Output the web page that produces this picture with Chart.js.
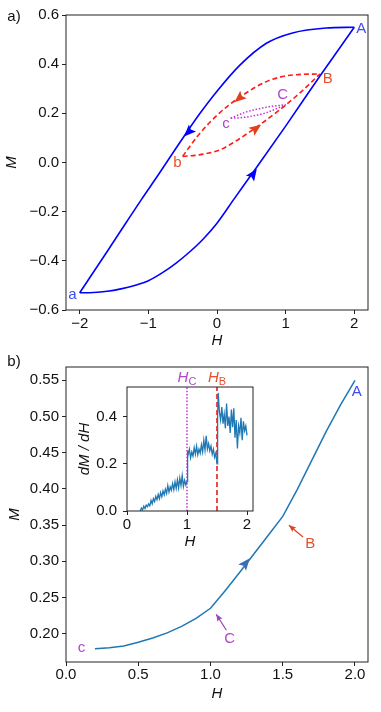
<!DOCTYPE html>
<html>
<head>
<meta charset="utf-8">
<script src="https://cdn.jsdelivr.net/npm/chart.js@4/dist/chart.umd.min.js"></script>
<style>
  html, body { margin: 0; padding: 0; background: #fff; }
  #wrap { position: relative; width: 381px; height: 712px; overflow: hidden; }
  canvas { position: absolute; }
</style>
</head>
<body>
<div id="wrap">
  <canvas id="cA" width="381" height="352" style="left:0;top:0"></canvas>
  <canvas id="cB" width="381" height="360" style="left:0;top:352px"></canvas>
  <canvas id="cIn" width="200" height="190" style="left:70px;top:365px"></canvas>
</div>
<script>
const FONT = "'Liberation Sans', Arial, sans-serif";

// ---- a) laço de histerese M(H) ----
const topXTicks = [-2, -1, 0, 1, 2];
const topYTicks = [-0.6, -0.4, -0.2, 0, 0.2, 0.4, 0.6];

// ramo azul descendente (A -> a)
const blueDownH = [-2.0, -1.6, -1.33, -1.1, -0.84, -0.6, -0.45, -0.25, 0.0, 0.33, 0.72, 1.1, 1.59, 2.0];
const blueDownM = [-0.53, -0.362, -0.247, -0.15, -0.044, 0.057, 0.119, 0.199, 0.29, 0.395, 0.485, 0.527, 0.547, 0.55];
// ramo azul ascendente (a -> A)
const blueUpH = [-2.0, -1.8, -1.6, -1.4, -1.2, -1.0, -0.8, -0.6, -0.4, -0.2, 0.0, 0.25, 0.5, 1.0, 1.5, 2.0];
const blueUpM = [-0.53, -0.529, -0.524, -0.514, -0.5, -0.481, -0.449, -0.41, -0.364, -0.311, -0.247, -0.148, -0.05, 0.148, 0.352, 0.55];
// laço vermelho (B <-> b)
const redDownH = [-0.5, -0.4, -0.26, 0.03, 0.33, 0.72, 1.1, 1.5];
const redDownM = [0.025, 0.064, 0.115, 0.2, 0.265, 0.329, 0.356, 0.36];
const redUpH = [-0.5, -0.26, 0.03, 0.13, 0.52, 0.91, 1.2, 1.5];
const redUpM = [0.025, 0.031, 0.05, 0.063, 0.133, 0.2135, 0.281, 0.36];
// laço roxo (C <-> c)
const purDownH = [0.2, 0.4, 0.7, 1.0];
const purDownM = [0.18, 0.203, 0.224, 0.235];
const purUpH = [0.2, 0.4, 0.7, 1.0];
const purUpM = [0.18, 0.184, 0.201, 0.235];

// ---- b) curva c -> C -> B -> A ----
const botXTicks = [0, 0.5, 1.0, 1.5, 2.0];
const botYTicks = [0.20, 0.25, 0.30, 0.35, 0.40, 0.45, 0.50, 0.55];
const botH = [0.2, 0.3, 0.4, 0.5, 0.6, 0.7, 0.8, 0.9, 1.0, 1.1, 1.2, 1.3, 1.4, 1.5, 1.6, 1.7, 1.8, 1.9, 2.0];
const botM = [0.179, 0.1805, 0.183, 0.188, 0.194, 0.201, 0.210, 0.221, 0.235, 0.259, 0.284, 0.31, 0.336, 0.362, 0.399, 0.439, 0.479, 0.516, 0.55];

// ---- inset dM/dH ----
const insXTicks = [0, 1, 2];
const insYTicks = [0, 0.2, 0.4];
const insH = [0.20, 0.22, 0.24, 0.26, 0.28, 0.30, 0.32, 0.34, 0.36, 0.38,
  0.40, 0.42, 0.44, 0.46, 0.48, 0.50, 0.52, 0.54, 0.56, 0.58,
  0.60, 0.62, 0.64, 0.66, 0.68, 0.70, 0.72, 0.74, 0.76, 0.78,
  0.80, 0.82, 0.84, 0.86, 0.88, 0.90, 0.92, 0.94, 0.96, 0.98,
  1.00, 1.01, 1.02, 1.04, 1.06, 1.08, 1.10, 1.12, 1.14, 1.16, 1.18,
  1.20, 1.22, 1.24, 1.26, 1.28, 1.30, 1.32, 1.34, 1.36, 1.38,
  1.40, 1.42, 1.44, 1.46, 1.48, 1.50, 1.51, 1.52, 1.54, 1.56, 1.58,
  1.60, 1.62, 1.64, 1.66, 1.68, 1.70, 1.72, 1.74, 1.76, 1.78,
  1.80, 1.82, 1.84, 1.86, 1.88, 1.90, 1.92, 1.94, 1.96, 1.98, 2.00];
const insD = [-0.010, 0.000, 0.012, 0.005, 0.020, 0.010, 0.025, 0.018, 0.030, 0.022,
  0.045, 0.030, 0.052, 0.040, 0.062, 0.048, 0.070, 0.052, 0.078, 0.060,
  0.085, 0.068, 0.092, 0.074, 0.108, 0.080, 0.102, 0.088, 0.116, 0.090,
  0.124, 0.096, 0.132, 0.098, 0.140, 0.108, 0.150, 0.104, 0.130, 0.110,
  0.125, 0.255, 0.240, 0.262, 0.225, 0.250, 0.232, 0.268, 0.240, 0.275, 0.238,
  0.262, 0.245, 0.280, 0.250, 0.300, 0.258, 0.318, 0.262, 0.285, 0.255,
  0.275, 0.240, 0.262, 0.228, 0.245, 0.200, 0.400, 0.500, 0.420, 0.385, 0.440,
  0.370, 0.410, 0.350, 0.455, 0.360, 0.400, 0.330, 0.430, 0.355, 0.435,
  0.310, 0.385, 0.265, 0.360, 0.330, 0.395, 0.300, 0.380, 0.340, 0.360, 0.320];
const hC = 1.0, hB = 1.5;

// cores
const BLUE = '#0000ff', BLUE_TXT = '#3f4df0';
const RED = '#ff1a1a', RED_HEAD = '#e0401a', RED_TXT = '#e8502a';
const PUR = '#c82fd6', PUR_TXT = '#b048c8';
const C0 = '#1f77b4';

const pts = (xs, ys) => xs.map((x, i) => ({ x, y: ys[i] }));

function axis(min, max, ticks, fmt, title, o) {
  return {
    type: 'linear', min, max,
    afterBuildTicks: s => { s.ticks = ticks.map(v => ({ value: v })); },
    afterFit: o.fit,
    grid: { display: true, drawOnChartArea: false, drawTicks: true, tickLength: 4, color: '#222' },
    border: { display: false },
    ticks: { color: '#111', font: { family: FONT, size: 15 }, padding: o.tickPad, maxRotation: 0, autoSkip: false,
      callback: v => fmt(v) },
    title: { display: true, text: title, color: '#111', font: { family: FONT, size: 15, style: 'italic' }, padding: o.titlePad }
  };
}
const fmt = d => v => v.toFixed(d).replace('-', '\u2212');

function line(data, color, width, dash, tension) {
  return { data, borderColor: color, borderWidth: width, borderDash: dash || [], pointRadius: 0,
    fill: false, tension: tension || 0, cubicInterpolationMode: tension ? 'monotone' : 'default' };
}

function px(chart, h, m) {
  return [chart.scales.x.getPixelForValue(h), chart.scales.y.getPixelForValue(m)];
}
function head(ctx, x0, y0, x1, y1, len, wid, color) {
  const a = Math.atan2(y1 - y0, x1 - x0);
  ctx.save();
  ctx.translate(x1, y1); ctx.rotate(a);
  ctx.beginPath();
  ctx.moveTo(0, 0); ctx.lineTo(-len, wid / 2); ctx.lineTo(-len * 0.8, 0); ctx.lineTo(-len, -wid / 2);
  ctx.closePath();
  ctx.fillStyle = color; ctx.fill();
  ctx.restore();
}
function text(ctx, t, x, y, color, font) {
  ctx.save();
  ctx.font = font || `15px ${FONT}`;
  ctx.fillStyle = color; ctx.textAlign = 'center'; ctx.textBaseline = 'middle';
  ctx.fillText(t, x, y);
  ctx.restore();
}

const boxPlugin = {
  id: 'box',
  afterDatasetsDraw(chart) {
    const { ctx, chartArea: a } = chart;
    ctx.save();
    ctx.strokeStyle = '#222'; ctx.lineWidth = 1;
    ctx.strokeRect(a.left, a.top, a.right - a.left, a.bottom - a.top);
    ctx.restore();
  }
};

// anotações do painel a)
const topArrows = [
  { from: [-0.36, 0.14], to: [-0.48, 0.106], c: BLUE },
  { from: [0.47, -0.07], to: [0.58, -0.026], c: BLUE },
  { from: [0.40, 0.28], to: [0.253, 0.245], c: RED_HEAD },
  { from: [0.50, 0.125], to: [0.642, 0.154], c: RED_HEAD }
];
const topLabels = [
  { t: 'A', h: 2.10, m: 0.542, c: BLUE_TXT }, { t: 'a', h: -2.108, m: -0.539, c: BLUE_TXT },
  { t: 'B', h: 1.615, m: 0.342, c: RED_TXT }, { t: 'b', h: -0.575, m: -0.003, c: RED_TXT },
  { t: 'C', h: 0.958, m: 0.274, c: PUR_TXT }, { t: 'c', h: 0.131, m: 0.156, c: PUR_TXT }
];

const chartA = new Chart(document.getElementById('cA'), {
  type: 'line',
  data: { datasets: [
    line(pts(blueDownH, blueDownM), BLUE, 1.6, null, 0.4),
    line(pts(blueUpH, blueUpM), BLUE, 1.6, null, 0.4),
    line(pts(redDownH, redDownM), RED, 1.6, [5, 3], 0.4),
    line(pts(redUpH, redUpM), RED, 1.6, [5, 3], 0.4),
    line(pts(purDownH, purDownM), PUR, 1.5, [1.5, 1.8], 0.4),
    line(pts(purUpH, purUpM), PUR, 1.5, [1.5, 1.8], 0.4)
  ] },
  options: {
    responsive: false, animation: false, events: [],
    layout: { padding: { top: 15, right: 13, left: 0, bottom: 0 } },
    plugins: { legend: { display: false }, tooltip: { enabled: false } },
    scales: {
      x: axis(-2.2, 2.2, topXTicks, fmt(0), 'H', { fit: s => { s.height = 42; }, tickPad: 1, titlePad: { top: 0, bottom: 2 } }),
      y: axis(-0.6, 0.6, topYTicks, fmt(1), 'M', { fit: s => { s.width = 66; }, tickPad: 3, titlePad: { top: 3, bottom: 0 } })
    }
  },
  plugins: [boxPlugin, {
    id: 'notasA',
    afterDatasetsDraw(chart) {
      const ctx = chart.ctx;
      topArrows.forEach(a => {
        const [x0, y0] = px(chart, ...a.from), [x1, y1] = px(chart, ...a.to);
        head(ctx, x0, y0, x1, y1, 12, 10, a.c);
      });
      topLabels.forEach(l => { const [x, y] = px(chart, l.h, l.m); text(ctx, l.t, x, y, l.c); });
      text(ctx, 'a)', 14, 17, '#111');
    }
  }]
});

// anotações do painel b)
const botHead = { from: [1.218, 0.291], to: [1.272, 0.304] };
const botPointers = [
  { from: [1.64, 0.3335], to: [1.543, 0.3497], c: RED_HEAD },
  { from: [1.11, 0.2046], to: [1.04, 0.2267], c: '#a040c0' }
];
const botLabels = [
  { t: 'A', h: 2.013, m: 0.534, c: BLUE_TXT }, { t: 'B', h: 1.691, m: 0.3244, c: RED_TXT },
  { t: 'C', h: 1.133, m: 0.193, c: PUR_TXT }, { t: 'c', h: 0.108, m: 0.181, c: PUR_TXT }
];

const chartB = new Chart(document.getElementById('cB'), {
  type: 'line',
  data: { datasets: [ line(pts(botH, botM), C0, 1.5) ] },
  options: {
    responsive: false, animation: false, events: [],
    layout: { padding: { top: 15, right: 13, left: 0, bottom: 0 } },
    plugins: { legend: { display: false }, tooltip: { enabled: false } },
    scales: {
      x: axis(0, 2.09, botXTicks, fmt(1), 'H', { fit: s => { s.height = 50; }, tickPad: 0, titlePad: { top: 0, bottom: 9 } }),
      y: axis(0.1608, 0.5684, botYTicks, fmt(2), 'M', { fit: s => { s.width = 66; }, tickPad: 3, titlePad: { top: 6, bottom: 0 } })
    }
  },
  plugins: [boxPlugin, {
    id: 'notasB',
    afterDatasetsDraw(chart) {
      const ctx = chart.ctx;
      let [x0, y0] = px(chart, ...botHead.from), [x1, y1] = px(chart, ...botHead.to);
      head(ctx, x0, y0, x1, y1, 12, 10, '#3a6db3');
      botPointers.forEach(p => {
        const [a0, b0] = px(chart, ...p.from), [a1, b1] = px(chart, ...p.to);
        ctx.save(); ctx.strokeStyle = p.c; ctx.lineWidth = 1.2;
        ctx.beginPath(); ctx.moveTo(a0, b0); ctx.lineTo(a1, b1); ctx.stroke(); ctx.restore();
        head(ctx, a0, b0, a1, b1, 7, 6, p.c);
      });
      botLabels.forEach(l => { const [x, y] = px(chart, l.h, l.m); text(ctx, l.t, x, y, l.c); });
      text(ctx, 'b)', 14, 10, '#111');
    }
  }]
});

// inset dM/dH
const insYMax = 0.525;
const chartIn = new Chart(document.getElementById('cIn'), {
  type: 'line',
  data: { datasets: [
    line(pts(insH, insD), C0, 1.3),
    line([{ x: hC, y: 0 }, { x: hC, y: insYMax }], PUR, 1.5, [1.5, 1.8]),
    line([{ x: hB, y: 0 }, { x: hB, y: insYMax }], '#e01010', 1.5, [5, 3])
  ] },
  options: {
    responsive: false, animation: false, events: [],
    layout: { padding: { top: 22, right: 17, left: 0, bottom: 0 } },
    plugins: { legend: { display: false }, tooltip: { enabled: false } },
    scales: {
      x: axis(0, 2.1, insXTicks, fmt(0), 'H', { fit: s => { s.height = 44; }, tickPad: 1, titlePad: { top: 0, bottom: 4 } }),
      y: axis(0, insYMax, insYTicks, fmt(1), 'dM / dH', { fit: s => { s.width = 57; }, tickPad: 6, titlePad: { top: 6, bottom: 0 } })
    }
  },
  plugins: [boxPlugin, {
    id: 'notasIn',
    afterDatasetsDraw(chart) {
      const ctx = chart.ctx, top = chart.chartArea.top;
      [[hC, 'C', PUR_TXT], [hB, 'B', RED_TXT]].forEach(([h, sub, c]) => {
        const x = chart.scales.x.getPixelForValue(h);
        ctx.save();
        ctx.fillStyle = c; ctx.textBaseline = 'alphabetic';
        ctx.font = `italic 15px ${FONT}`;
        const w1 = ctx.measureText('H').width;
        ctx.font = `11px ${FONT}`;
        const w2 = ctx.measureText(sub).width;
        const x0 = x - (w1 + w2) / 2;
        ctx.font = `italic 15px ${FONT}`;
        ctx.fillText('H', x0, top - 5);
        ctx.font = `11px ${FONT}`;
        ctx.fillText(sub, x0 + w1, top - 2);
        ctx.restore();
      });
    }
  }]
});
</script>
</body>
</html>
